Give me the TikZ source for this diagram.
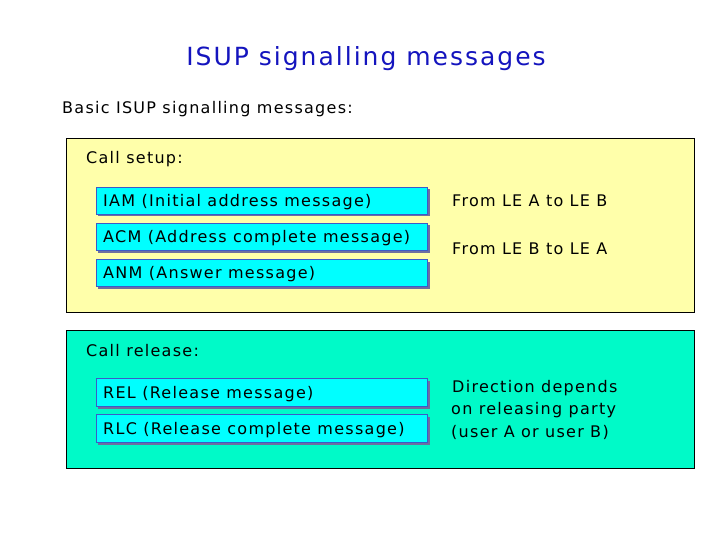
\documentclass[tikz,border=0pt]{standalone}
\usepackage{fontspec}
\setmainfont{DejaVu Sans}[LetterSpace=8]
\definecolor{titleblue}{RGB}{20,20,190}
\definecolor{setupyellow}{RGB}{255,255,170}
\definecolor{relgreen}{RGB}{0,250,200}
\definecolor{msgcyan}{RGB}{0,255,255}
\definecolor{msgborder}{RGB}{60,90,200}
\definecolor{msgshadow}{RGB}{110,110,160}
\begin{document}
\begin{tikzpicture}[x=1pt,y=-1pt,
  panel/.style={draw=black,line width=0.8pt},
  msgbox/.style={draw=msgborder,fill=msgcyan,line width=0.8pt},
  shadowbox/.style={fill=msgshadow},
  txt/.style={anchor=base west,inner sep=0pt,font=\fontsize{16}{19}\selectfont}]
\useasboundingbox (0,0) rectangle (720,540);
\fill[white] (0,0) rectangle (720,540);
% title
\node[anchor=base,inner sep=0pt,text=titleblue,font=\fontsize{25}{30}\selectfont] (title) at (366,66) {ISUP signalling messages};
\node[txt] (basic) at (62,114) {Basic ISUP signalling messages:};
% setup panel
\draw[panel,fill=setupyellow] (66,138) rectangle (694,312);
\node[txt] (setup) at (86,164) {Call setup:};
\foreach \y/\t/\n in {187/{IAM (Initial address message)}/iam,223/{ACM (Address complete message)}/acm,259/{ANM (Answer message)}/anm}{
  \fill[shadowbox] (98,\y+2.5) rectangle (429.5,\y+29.5);
  \draw[msgbox] (96,\y) rectangle (427,\y+27);
  \node[txt] (\n) at (103,\y+19.5) {\t};
}
\node[txt] (fromab) at (452,206.5) {From LE A to LE B};
\node[txt] (fromba) at (452,254.5) {From LE B to LE A};
% release panel
\draw[panel,fill=relgreen] (66,330) rectangle (694,468);
\node[txt] (release) at (86,356) {Call release:};
\foreach \y/\t/\n in {378/{REL (Release message)}/rel,414/{RLC (Release complete message)}/rlc}{
  \fill[shadowbox] (98,\y+2.5) rectangle (429.5,\y+30.5);
  \draw[msgbox] (96,\y) rectangle (427,\y+28);
  \node[txt] (\n) at (103,\y+20) {\t};
}
\node[txt] (dir1) at (452,392) {Direction depends};
\node[txt] (dir2) at (451,414.5) {on releasing party};
\node[txt] (dir3) at (451,437) {(user A or user B)};
\end{tikzpicture}
\end{document}
